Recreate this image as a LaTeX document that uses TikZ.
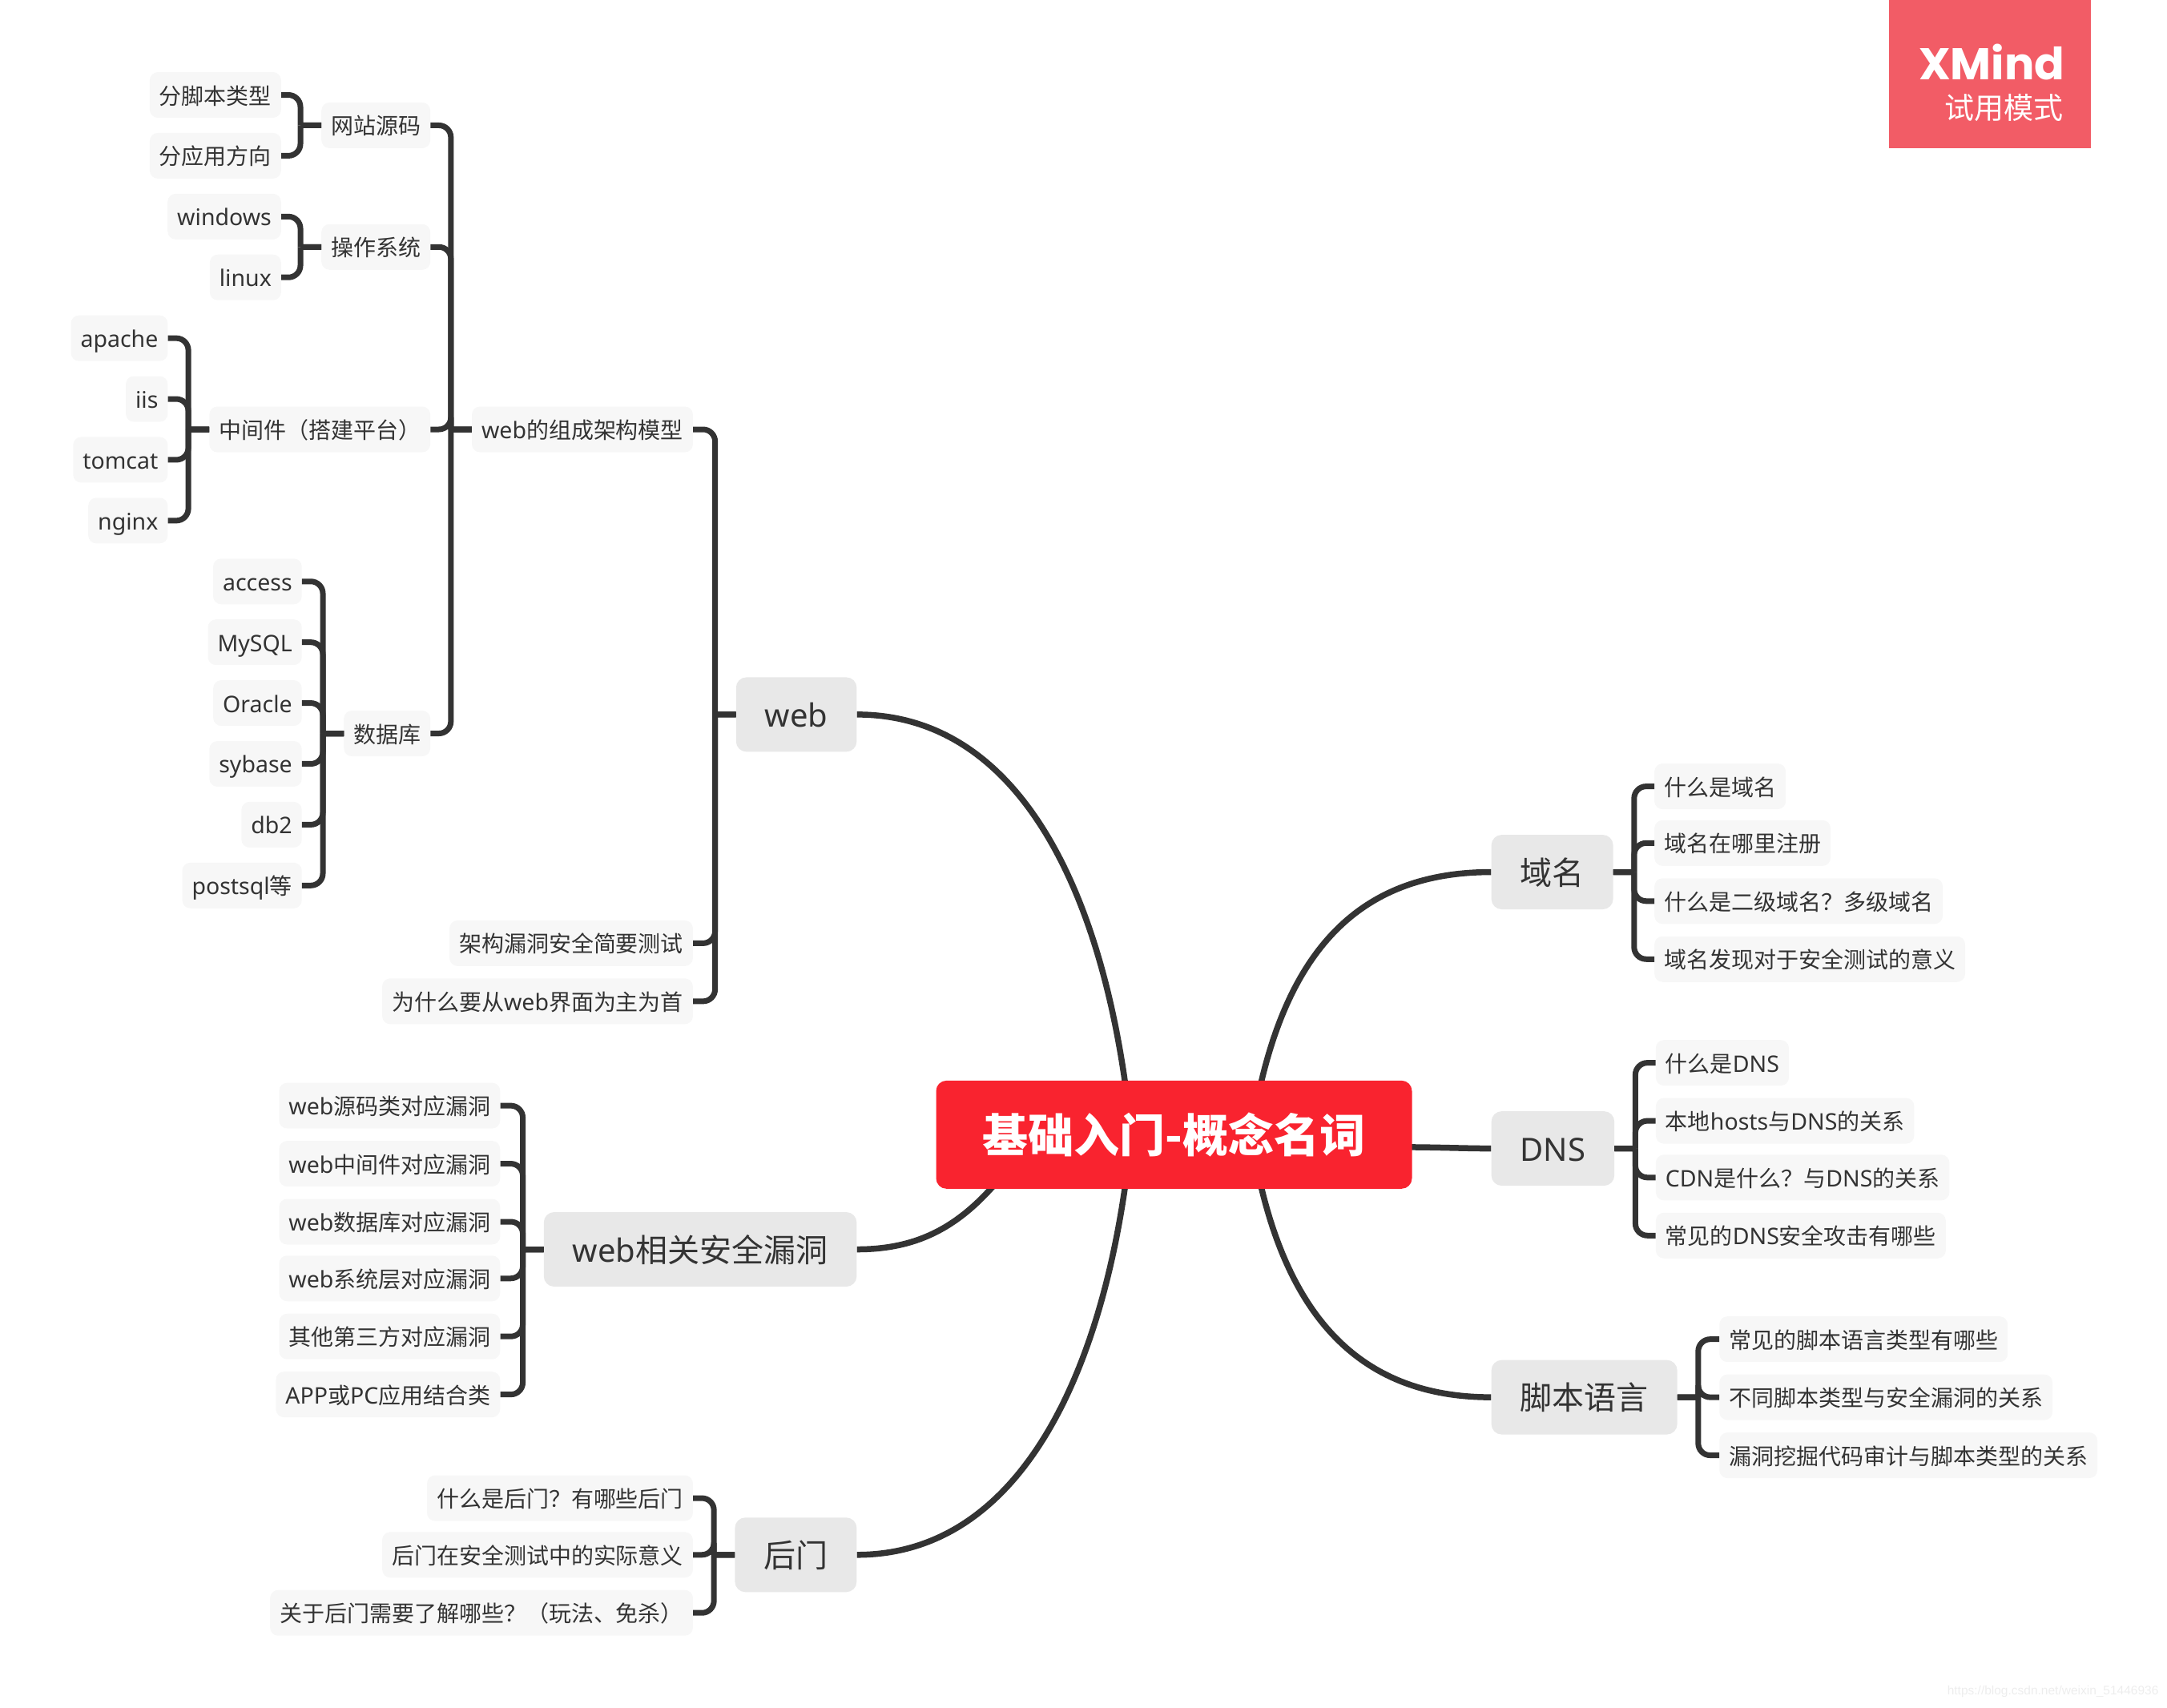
\documentclass[tikz,border=0pt]{standalone}
\usepackage{fontspec}
\setmainfont{Noto Sans}
\newfontfamily\cjk{Noto Sans CJK SC}
\newfontfamily\cjkleaf[Scale=0.982]{Noto Sans CJK SC}
\newfontfamily\logofont{Poppins}
\newfontfamily\markfont{Liberation Sans}
\newcommand{\cj}[1]{{\cjk #1}}
\usetikzlibrary{backgrounds}
\definecolor{ink}{HTML}{333333}
\definecolor{leaffill}{HTML}{F7F7F7}
\definecolor{mainfill}{HTML}{E8E8E8}
\definecolor{rootfill}{HTML}{F9232F}
\definecolor{logofill}{HTML}{F25C66}
\tikzset{
	leaf/.style={fill=leaffill,text=ink,rounded corners=10pt,minimum height=57pt,inner xsep=12pt,inner ysep=0pt,text height=28pt,text depth=5pt,execute at begin node=\let\cjk\cjkleaf,font=\fontsize{28.5}{30}\selectfont},
	main/.style={fill=mainfill,text=ink,rounded corners=13pt,minimum height=93pt,inner xsep=36pt,inner ysep=0pt,text height=38pt,text depth=7pt,font=\fontsize{40}{44}\selectfont},
	branch/.style={draw=ink,line width=7pt,rounded corners=15pt},
	bl/.style={branch,to path={-| ([xshift=-26pt]\tikztotarget.west) ([xshift=-26pt]\tikztotarget.west) -- (\tikztotarget.west)}},
	br/.style={branch,to path={-| ([xshift=26pt]\tikztotarget.east) ([xshift=26pt]\tikztotarget.east) -- (\tikztotarget.east)}},
	limb/.style={draw=ink,line width=7.5pt}
}
\begin{document}
\begin{tikzpicture}[x=1.72513pt,y=-1.72513pt]
	\useasboundingbox (0,0) rectangle (1568,1235.3);
	% logo
	\fill[logofill] (1367,-2) rectangle (1513,107);
	\node[anchor=east,text=white,inner sep=0pt,font=\logofont\bfseries\fontsize{55.5}{60}\selectfont] at (1494,45) (xmind) {XMind};
	\node[anchor=east,text=white,inner sep=0pt,font=\cjk\fontsize{37}{40}\selectfont] at (1493,78) (trial) {试用模式};
	% root
	\node[fill=rootfill,text=white,rounded corners=13pt,minimum width=594pt,minimum height=135pt,inner sep=0pt,font=\cjk\bfseries\fontsize{57}{60}\selectfont] at (849.5,821) (root) {基础入门-概念名词};
	% web
	\node[main,anchor=east] at (620,517) (web) {web};
	\node[leaf,anchor=east] at (501.5,310.7) (model) {web\cj{的组成架构模型}};
	\node[leaf,anchor=east] at (311.5,90.7) (source) {\cj{网站源码}};
	\node[leaf,anchor=east] at (203.5,68.7) (script) {\cj{分脚本类型}};
	\node[leaf,anchor=east] at (203.5,112.7) (usage) {\cj{分应用方向}};
	\node[leaf,anchor=east] at (311.5,178.7) (os) {\cj{操作系统}};
	\node[leaf,anchor=east] at (203.5,156.7) (windows) {windows};
	\node[leaf,anchor=east] at (203.5,200.7) (linux) {linux};
	\node[leaf,anchor=east] at (311.5,310.7) (middle) {\cj{中间件（搭建平台）}};
	\node[leaf,anchor=east] at (121.5,244.7) (apache) {apache};
	\node[leaf,anchor=east] at (121.5,288.7) (iis) {iis};
	\node[leaf,anchor=east] at (121.5,332.7) (tomcat) {tomcat};
	\node[leaf,anchor=east] at (121.5,376.7) (nginx) {nginx};
	\node[leaf,anchor=east] at (311.5,530.7) (db) {\cj{数据库}};
	\node[leaf,anchor=east] at (218.5,420.7) (access) {access};
	\node[leaf,anchor=east] at (218.5,464.7) (mysql) {MySQL};
	\node[leaf,anchor=east] at (218.5,508.7) (oracle) {Oracle};
	\node[leaf,anchor=east] at (218.5,552.7) (sybase) {sybase};
	\node[leaf,anchor=east] at (218.5,596.7) (dbtwo) {db2};
	\node[leaf,anchor=east] at (218.5,640.7) (postsql) {postsql\cj{等}};
	\node[leaf,anchor=east] at (501.5,682.5) (test) {\cj{架构漏洞安全简要测试}};
	\node[leaf,anchor=east] at (501.5,724.5) (why) {\cj{为什么要从}web\cj{界面为主为首}};
	% web vulnerabilities
	\node[main,anchor=east] at (620,904) (vuln) {web\cj{相关安全漏洞}};
	\node[leaf,anchor=east] at (362,800) (vsource) {web\cj{源码类对应漏洞}};
	\node[leaf,anchor=east] at (362,842) (vmiddle) {web\cj{中间件对应漏洞}};
	\node[leaf,anchor=east] at (362,884) (vdb) {web\cj{数据库对应漏洞}};
	\node[leaf,anchor=east] at (362,925) (vsys) {web\cj{系统层对应漏洞}};
	\node[leaf,anchor=east] at (362,967) (vthird) {\cj{其他第三方对应漏洞}};
	\node[leaf,anchor=east] at (362,1009) (vapp) {APP\cj{或}PC\cj{应用结合类}};
	% backdoor
	\node[main,anchor=east] at (620,1125) (door) {\cj{后门}};
	\node[leaf,anchor=east] at (501.5,1084) (dwhat) {\cj{什么是后门？有哪些后门}};
	\node[leaf,anchor=east] at (501.5,1125) (dmean) {\cj{后门在安全测试中的实际意义}};
	\node[leaf,anchor=east] at (501.5,1167) (dknow) {\cj{关于后门需要了解哪些？（玩法、免杀）}};
	% domain
	\node[main,anchor=west] at (1079,631) (domain) {\cj{域名}};
	\node[leaf,anchor=west] at (1197,569) (dowhat) {\cj{什么是域名}};
	\node[leaf,anchor=west] at (1197,610) (doreg) {\cj{域名在哪里注册}};
	\node[leaf,anchor=west] at (1197,652) (dolevel) {\cj{什么是二级域名？多级域名}};
	\node[leaf,anchor=west] at (1197,694) (dofind) {\cj{域名发现对于安全测试的意义}};
	% dns
	\node[main,anchor=west] at (1079,831) (dns) {DNS};
	\node[leaf,anchor=west] at (1198,769) (nwhat) {\cj{什么是}DNS};
	\node[leaf,anchor=west] at (1198,811) (nhosts) {\cj{本地}hosts\cj{与}DNS\cj{的关系}};
	\node[leaf,anchor=west] at (1198,852) (ncdn) {CDN\cj{是什么？与}DNS\cj{的关系}};
	\node[leaf,anchor=west] at (1198,894) (nattack) {\cj{常见的}DNS\cj{安全攻击有哪些}};
	% script language
	\node[main,anchor=west] at (1079,1011) (lang) {\cj{脚本语言}};
	\node[leaf,anchor=west] at (1244,969) (ltype) {\cj{常见的脚本语言类型有哪些}};
	\node[leaf,anchor=west] at (1244,1011) (lrel) {\cj{不同脚本类型与安全漏洞的关系}};
	\node[leaf,anchor=west] at (1244,1053) (laudit) {\cj{漏洞挖掘代码审计与脚本类型的关系}};
	% watermark
	\node[anchor=east,text=black!7,inner sep=0pt,font=\markfont\fontsize{15.5}{17}\selectfont] at (1562,1224) (mark) {https://blog.csdn.net/weixin\_51446936};
	% limbs from the root
	\coordinate (rootnw) at (815,790);
	\coordinate (rootne) at (911,790);
	\coordinate (rootsw) at (815,852);
	\coordinate (rootse) at (911,852);
	\coordinate (rootsv) at (724,852);
	\coordinate (rootee) at (1010,830);
	\begin{pgfonlayer}{background}
	\draw[limb] (web.east) .. controls (735,517) and (795,640) .. (rootnw);
	\draw[limb] (door.east) .. controls (735,1125) and (795,1000) .. (rootsw);
	\draw[limb] (vuln.east) .. controls (665,904) and (695,887) .. (rootsv);
	\draw[limb] (domain.west) .. controls (990,631) and (935,680) .. (rootne);
	\draw[limb] (lang.west) .. controls (990,1011) and (935,960) .. (rootse);
	\draw[limb] (dns.west) .. controls (1060,831) and (1040,830) .. (rootee);
	\end{pgfonlayer}
	% brackets
	\path (script.east) edge[bl] (source)
	(usage.east) edge[bl] (source)
	(windows.east) edge[bl] (os)
	(linux.east) edge[bl] (os)
	(apache.east) edge[bl] (middle)
	(iis.east) edge[bl] (middle)
	(tomcat.east) edge[bl] (middle)
	(nginx.east) edge[bl] (middle)
	(access.east) edge[bl] (db)
	(mysql.east) edge[bl] (db)
	(oracle.east) edge[bl] (db)
	(sybase.east) edge[bl] (db)
	(dbtwo.east) edge[bl] (db)
	(postsql.east) edge[bl] (db)
	(source.east) edge[bl] (model)
	(os.east) edge[bl] (model)
	(middle.east) edge[bl] (model)
	(db.east) edge[bl] (model)
	(model.east) edge[bl] (web)
	(test.east) edge[bl] (web)
	(why.east) edge[bl] (web);
	\path (vsource.east) edge[bl] (vuln)
	(vmiddle.east) edge[bl] (vuln)
	(vdb.east) edge[bl] (vuln)
	(vsys.east) edge[bl] (vuln)
	(vthird.east) edge[bl] (vuln)
	(vapp.east) edge[bl] (vuln);
	\path (dwhat.east) edge[bl] (door)
	(dmean.east) edge[bl] (door)
	(dknow.east) edge[bl] (door);
	\path (dowhat.west) edge[br] (domain)
	(doreg.west) edge[br] (domain)
	(dolevel.west) edge[br] (domain)
	(dofind.west) edge[br] (domain);
	\path (nwhat.west) edge[br] (dns)
	(nhosts.west) edge[br] (dns)
	(ncdn.west) edge[br] (dns)
	(nattack.west) edge[br] (dns);
	\path (ltype.west) edge[br] (lang)
	(lrel.west) edge[br] (lang)
	(laudit.west) edge[br] (lang);
\end{tikzpicture}
\end{document}
